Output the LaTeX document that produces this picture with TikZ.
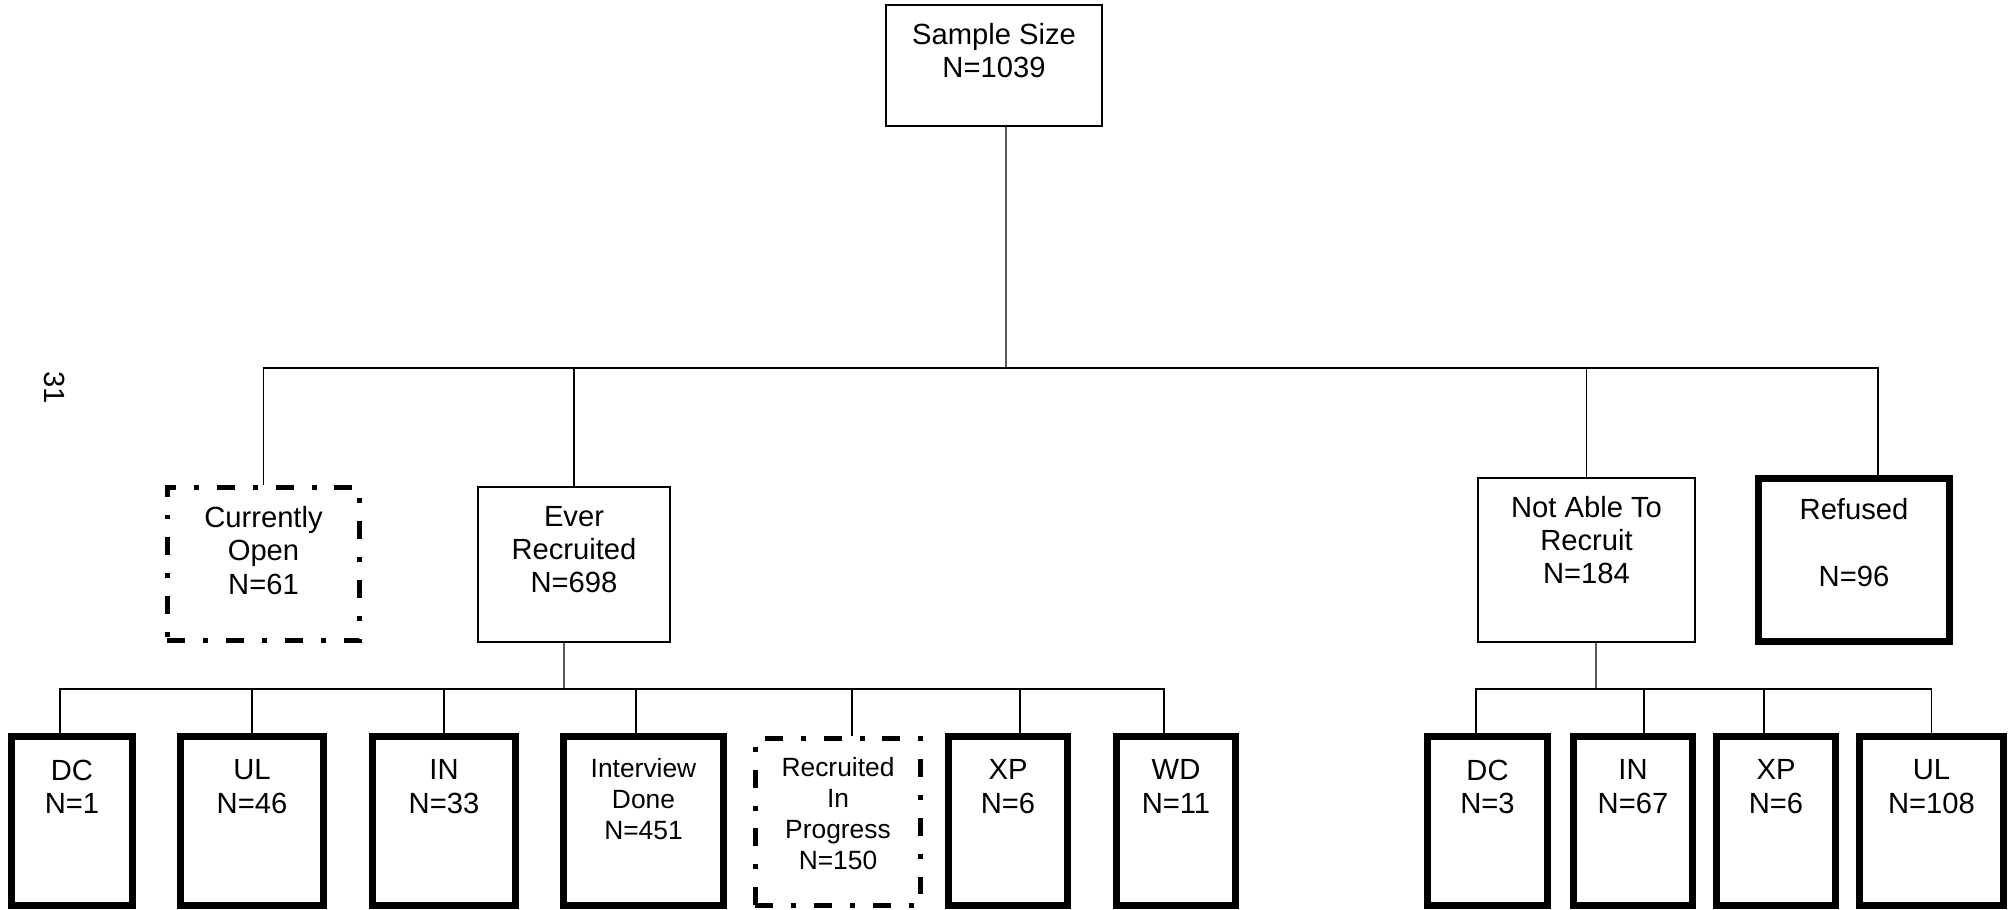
\documentclass[tikz,border=0pt]{standalone}
\usepackage{fontspec}
\setmainfont{Liberation Sans}
\usetikzlibrary{positioning}

\tikzset{
  thinbox/.style={draw, line width=0.4pt, inner sep=0pt},
  thickbox/.style={draw, line width=2pt, inner sep=0pt},
  openbox/.style={draw, line width=1.6pt, inner sep=0pt, dash pattern=on 5.1pt off 5.1pt on 1.4pt off 5.1pt},
  txt/.style={align=center, inner sep=0pt, font=\fontsize{8.3}{9.5}\selectfont},
  smalltxt/.style={txt, font=\fontsize{7.5}{8.8}\selectfont},
  link/.style={line width=0.4pt}
}

\begin{document}
\begin{tikzpicture}[x=0.01cm, y=-0.01cm]

\useasboundingbox (0,0) rectangle (2010,910);

\node[txt, rotate=-90] (pagenum) at (55,388) {31};

% top level
\node[thinbox, minimum width=21.6mm, minimum height=12.1mm] (sample) at (994,65.5) {};
\node[txt, below=1.8mm of sample.north] (sampletxt) {Sample Size\\N=1039};

% second level
\node[openbox, minimum width=19.2mm, minimum height=15.3mm] (open) at (263.5,564) {};
\node[thinbox, minimum width=19.2mm, minimum height=15.5mm] (ever) at (574,564.5) {};
\node[thinbox, minimum width=21.7mm, minimum height=16.4mm] (notable) at (1586.5,560) {};
\node[thickbox, minimum width=19.1mm, minimum height=16.3mm] (refused) at (1854,560) {};

\node[txt, below=2.1mm of open.north] (opentxt) {Currently\\Open\\N=61};
\node[txt, below=1.9mm of ever.north] (evertxt) {Ever\\Recruited\\N=698};
\node[txt, below=1.8mm of notable.north] (notabletxt) {Not Able To\\Recruit\\N=184};
\node[txt, below=2.3mm of refused.north] (refusedtxt) {Refused\\[9.5pt]N=96};

% third level
\foreach \n/\x/\w in {dc1/72/12.1, ul1/252/14.3, in1/444/14.3, done/643.5/16.0,
                      xp1/1008/11.9, wd1/1176/11.9,
                      dc2/1487.5/12.0, in2/1633/11.9, xp2/1776/11.9, ul2/1931.5/14.4}
  \node[thickbox, minimum width=\w mm, minimum height=16.9mm] (\n) at (\x,821) {};
\node[openbox, minimum width=16.5mm, minimum height=16.7mm] (prog) at (838,822) {};

\foreach \n/\t in {dc1/{DC\\N=1}, ul1/{UL\\N=46}, in1/{IN\\N=33}, xp1/{XP\\N=6}, wd1/{WD\\N=11},
                   dc2/{DC\\N=3}, in2/{IN\\N=67}, xp2/{XP\\N=6}, ul2/{UL\\N=108}}
  \node[txt, below=2.6mm of \n.north] (\n txt) {\t};
\node[smalltxt, below=2.5mm of done.north] (donetxt) {Interview\\Done\\N=451};
\node[smalltxt, below=2.1mm of prog.north] (progtxt) {Recruited\\In\\Progress\\N=150};

% connectors
\coordinate (bus1) at (1006,368);
\draw[link] ([xshift=1.2mm]sample.south) -- (bus1);
\draw[link] (open.north) |- (bus1) -| ([xshift=2.4mm]refused.north);
\draw[link] (ever.north) -- (ever.north |- bus1);
\draw[link] (notable.north) -- (notable.north |- bus1);

\coordinate (bus2) at (564,689);
\draw[link] ([xshift=-1mm]ever.south) -- (bus2);
\draw[link] ([xshift=-1.2mm]dc1.north) |- (bus2) -| ([xshift=-1.2mm]wd1.north);
\foreach \n/\s in {ul1/0, in1/0, done/-0.75, prog/1.4, xp1/1.2}
  \draw[link] ([xshift=\s mm]\n.north) -- ([xshift=\s mm]\n.north |- bus2);

\coordinate (bus3) at (1596,689);
\draw[link] ([xshift=0.95mm]notable.south) -- (bus3);
\draw[link] ([xshift=-1.15mm]dc2.north) |- (bus3) -| (ul2.north);
\foreach \n/\s in {in2/1.1, xp2/-1.2}
  \draw[link] ([xshift=\s mm]\n.north) -- ([xshift=\s mm]\n.north |- bus3);

\end{tikzpicture}
\end{document}
